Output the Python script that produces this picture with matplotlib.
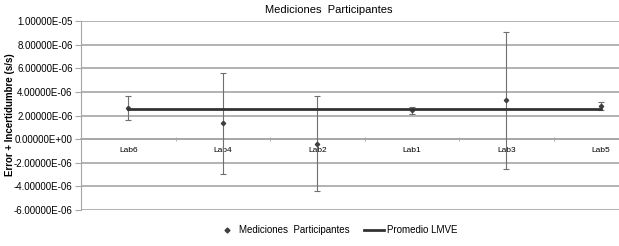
import numpy as np
import matplotlib.pyplot as plt
from matplotlib.lines import Line2D
from matplotlib.ticker import FuncFormatter

labs = ['Lab6', 'Lab4', 'Lab2', 'Lab1', 'Lab3', 'Lab5']
valores = [2.65e-6, 1.33e-6, -0.40e-6, 2.43e-6, 3.30e-6, 2.82e-6]
incertidumbre = [1.0e-6, 4.3e-6, 4.02e-6, 0.29e-6, 5.8e-6, 0.33e-6]
promedio = 2.55e-6
yticks = [-6e-6, -4e-6, -2e-6, 0.0, 2e-6, 4e-6, 6e-6, 8e-6, 1e-5]

plt.rcParams['font.family'] = ['Liberation Sans', 'DejaVu Sans']

fig = plt.figure(figsize=(6.19, 2.46), dpi=100)
ax = fig.add_axes([81/619, 1-210/246, 1-81/619, (210-21)/246])

x = np.arange(len(labs))
ax.errorbar(x, valores, yerr=incertidumbre, fmt='D', color='#404040', ms=2.2,
            ecolor='#707070', elinewidth=0.8, capsize=2.5, capthick=0.8, zorder=3)
ax.plot([x[0], x[-1]], [promedio, promedio], color='#333333', lw=2.0, zorder=4)

ax.set_xlim(-0.5, 5.19)
ax.set_ylim(-6e-6, 1e-5)
ax.set_yticks(yticks)
ax.yaxis.set_major_formatter(FuncFormatter(lambda v, p: '%.5E' % v))
ax.grid(axis='y', color='#a6a6a6', lw=1.2)
ax.set_axisbelow(True)

for s in ['top', 'right']:
    ax.spines[s].set_visible(False)
ax.spines['left'].set_color('#a6a6a6')
ax.spines['bottom'].set_position(('data', 0))
ax.spines['bottom'].set_color('#a6a6a6')
ax.spines['bottom'].set_linewidth(1.2)

ax.set_xticks(x)
ax.set_xticklabels(labs, fontsize=6)
ax.set_xticks(np.arange(0.5, 5.0, 1), minor=True)
ax.tick_params(axis='x', which='major', length=0, pad=6)
ax.tick_params(axis='x', which='minor', length=2.5, direction='inout', color='#a6a6a6')
ax.tick_params(axis='y', labelsize=7, length=4, color='#a6a6a6', pad=2)

fig.text(329/619, 1-10/246, 'Mediciones  Participantes', ha='center', va='center', fontsize=8)
fig.text(10/619, 1-115/246, 'Error + Incertidumbre (s/s)', rotation=90, ha='center',
         va='center', fontsize=7, fontweight='bold')

h = [Line2D([], [], ls='none', marker='D', ms=2.5, color='#404040'),
     Line2D([], [], color='#333333', lw=2.0)]
l = ['Mediciones  Participantes', 'Promedio LMVE']
fig.legend(h, l, loc='center', bbox_to_anchor=(337/619, 1-230/246), ncol=2,
           frameon=False, fontsize=7, handlelength=2.0, columnspacing=1.5,
           handletextpad=0.3)

fig.savefig('out.png', dpi=100)
